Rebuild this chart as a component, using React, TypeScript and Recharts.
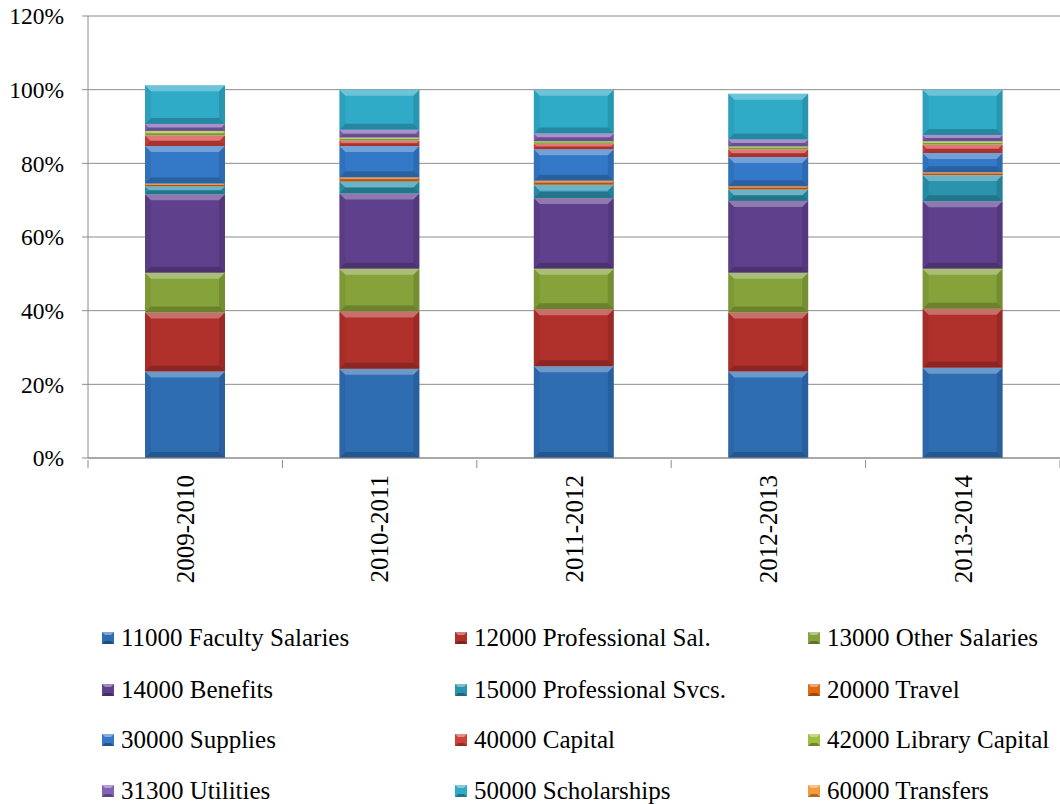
import { BarChart, Bar, XAxis, YAxis, CartesianGrid } from "recharts";

// fiscal years on the x axis
const years = ["2009-2010", "2010-2011", "2011-2012", "2012-2013", "2013-2014"];

// share of total budget, in percent, bottom of the stack first
const faculty = [23.5, 24.2, 24.9, 23.5, 24.5];
const profSal = [16.0, 15.6, 15.5, 16.0, 16.0];
const otherSal = [10.8, 11.6, 11.0, 10.8, 10.9];
const benefits = [21.3, 20.4, 19.2, 19.5, 18.3];
const profSvcs = [2.2, 3.3, 3.6, 3.1, 7.1];
const travel = [0.7, 1.1, 1.1, 0.9, 0.8];
const supplies = [10.2, 8.5, 8.5, 7.9, 5.2];
const capital = [2.9, 1.5, 1.5, 2.1, 2.3];
const libraryCap = [1.2, 0.8, 0.7, 0.8, 0.9];
const utilities = [1.9, 2.1, 2.1, 1.9, 1.7];
const scholarships = [10.5, 10.9, 11.9, 12.4, 12.3];
const transfers = [0, 0, 0, 0, 0];

const yTicks = [0, 20, 40, 60, 80, 100, 120];

const series = [
  { key: "f11000", name: "11000 Faculty Salaries", values: faculty, color: "#2F6DB3" },
  { key: "f12000", name: "12000 Professional Sal.", values: profSal, color: "#B0302B" },
  { key: "f13000", name: "13000 Other Salaries", values: otherSal, color: "#86A23A" },
  { key: "f14000", name: "14000 Benefits", values: benefits, color: "#5F408D" },
  { key: "f15000", name: "15000 Professional Svcs.", values: profSvcs, color: "#2B93AD" },
  { key: "f20000", name: "20000 Travel", values: travel, color: "#E06A12" },
  { key: "f30000", name: "30000 Supplies", values: supplies, color: "#3479C8" },
  { key: "f40000", name: "40000 Capital", values: capital, color: "#D2403A" },
  { key: "f42000", name: "42000 Library Capital", values: libraryCap, color: "#9DC13F" },
  { key: "f31300", name: "31300 Utilities", values: utilities, color: "#8463B6" },
  { key: "f50000", name: "50000 Scholarships", values: scholarships, color: "#2FABC8" },
  { key: "f60000", name: "60000 Transfers", values: transfers, color: "#F39A3C" },
];

const data = years.map((year, i) => {
  const row: Record<string, string | number> = { year };
  series.forEach((s) => { row[s.key] = s.values[i]; });
  return row;
});

const FONT = "Liberation Serif, DejaVu Serif, Times New Roman, serif";
const GRID = "#8C8C8C";

// bar segment with a beveled look (light top edge, dark bottom edge)
function BevelBar(props: any) {
  const { x, y, width, height, fill } = props;
  if (!height || height <= 0.3) return null;
  const b = Math.min(6, height / 2, width / 2);
  return (
    <g>
      <rect x={x} y={y} width={width} height={height} fill={fill} />
      <polygon points={`${x},${y} ${x + width},${y} ${x + width - b},${y + b} ${x + b},${y + b}`} fill="#fff" fillOpacity={0.3} />
      <polygon points={`${x},${y + height} ${x + width},${y + height} ${x + width - b},${y + height - b} ${x + b},${y + height - b}`} fill="#000" fillOpacity={0.2} />
      <polygon points={`${x},${y} ${x + b},${y + b} ${x + b},${y + height - b} ${x},${y + height}`} fill="#000" fillOpacity={0.06} />
      <polygon points={`${x + width},${y} ${x + width - b},${y + b} ${x + width - b},${y + height - b} ${x + width},${y + height}`} fill="#000" fillOpacity={0.12} />
    </g>
  );
}

function YearTick(props: any) {
  const { x, y, payload, index, visibleTicksCount } = props;
  const band = 972 / years.length;
  const y0 = y - 8;
  return (
    <g>
      <line x1={x - band / 2} x2={x - band / 2} y1={y0} y2={y0 + 8} stroke={GRID} />
      {index === (visibleTicksCount ?? years.length) - 1 && (
        <line x1={x + band / 2} x2={x + band / 2} y1={y0} y2={y0 + 8} stroke={GRID} />
      )}
      <text
        x={x}
        y={y + 7}
        transform={`rotate(-90, ${x}, ${y + 7})`}
        textAnchor="end"
        dy="0.35em"
        fontFamily={FONT}
        fontSize={25}
        fill="#000"
      >
        {payload.value}
      </text>
    </g>
  );
}

function Marker({ color }: { color: string }) {
  return (
    <svg width={12} height={12} style={{ marginRight: 7, flex: "none" }}>
      <rect x={0} y={0} width={12} height={12} fill={color} />
      <polygon points="0,0 12,0 9,3 3,3" fill="#fff" fillOpacity={0.4} />
      <polygon points="0,12 12,12 9,9 3,9" fill="#000" fillOpacity={0.3} />
    </svg>
  );
}

export default function App() {
  const colX = [102, 455, 808];
  const rowY = [638, 690, 740, 791];
  return (
    <div style={{ position: "absolute", left: 0, top: 0, width: 1060, height: 804, background: "#fff" }}>
      <BarChart
        width={1060}
        height={804}
        data={data}
        margin={{ top: 16, right: 0, left: 0, bottom: 0 }}
        barSize={80}
      >
        <CartesianGrid vertical={false} stroke={GRID} />
        <YAxis
          domain={[0, 120]}
          ticks={yTicks}
          interval={0}
          width={88}
          tickFormatter={(v) => `${v}%`}
          tick={{ fontSize: 23.5, fill: "#000", fontFamily: FONT }}
          tickSize={6}
          tickMargin={18}
          axisLine={{ stroke: GRID }}
          tickLine={{ stroke: GRID }}
        />
        <XAxis
          dataKey="year"
          height={346}
          interval={0}
          tick={<YearTick />}
          tickLine={false}
          axisLine={{ stroke: GRID }}
          tickSize={8}
        />
        {series.map((s) => (
          <Bar
            key={s.key}
            dataKey={s.key}
            name={s.name}
            stackId="a"
            fill={s.color}
            shape={<BevelBar />}
            isAnimationActive={false}
          />
        ))}
      </BarChart>
      {series.map((s, i) => (
        <div
          key={s.key}
          style={{
            position: "absolute",
            left: colX[i % 3],
            top: rowY[Math.floor(i / 3)] - 15,
            height: 30,
            display: "flex",
            alignItems: "center",
            fontFamily: FONT,
            fontSize: 25,
            color: "#000",
            whiteSpace: "nowrap",
          }}
        >
          <Marker color={s.color} />
          {s.name}
        </div>
      ))}
    </div>
  );
}
